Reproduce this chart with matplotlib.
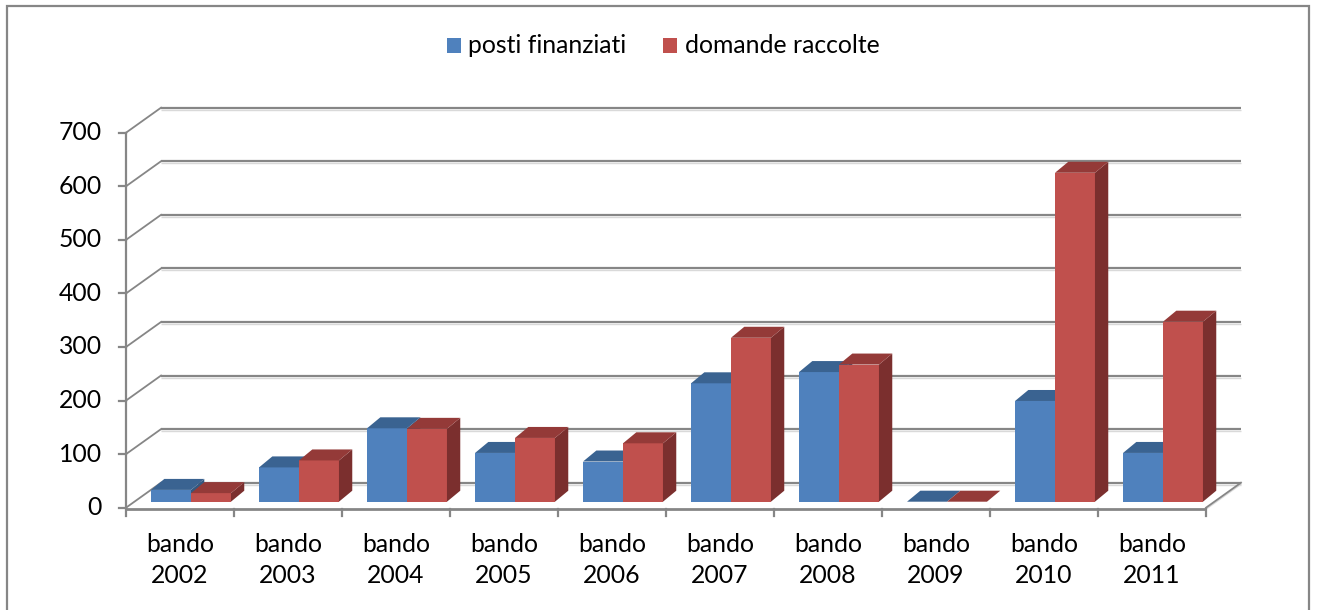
import matplotlib
matplotlib.use("Agg")
import matplotlib.pyplot as plt
from matplotlib.patches import Polygon, Rectangle

categories = ["bando\n2002", "bando\n2003", "bando\n2004", "bando\n2005", "bando\n2006",
              "bando\n2007", "bando\n2008", "bando\n2009", "bando\n2010", "bando\n2011"]
posti_finanziati = [22, 64, 137, 91, 75, 221, 242, 0, 188, 91]
domande_raccolte = [16, 77, 136, 119, 109, 306, 256, 0, 614, 336]
series_names = ["posti finanziati", "domande raccolte"]
y_ticks = [0, 100, 200, 300, 400, 500, 600, 700]

W, H, DPI = 1317, 610, 100
FONT = "Lato"
FS = 17.8

blue_front, blue_top, blue_side = "#4F81BD", "#3A6391", "#34587F"
red_front, red_top, red_side = "#C0504D", "#943A38", "#7B2F2E"
grid_c = "#868686"
shadow_c = "#D9D9D9"

fig = plt.figure(figsize=(W / DPI, H / DPI), dpi=DPI)
fig.patch.set_facecolor("white")

# front plane of the 3-D plot
x0_px, x1_px = 126, 1206
y0_px, y1_px = 507.7, 132.7
ax = fig.add_axes([x0_px / W, 1 - y0_px / H, (x1_px - x0_px) / W, (y0_px - y1_px) / H])
ncat = len(categories)
ax.set_xlim(0, ncat)
ax.set_ylim(0, 700)
ax.axis("off")

px_x = (x1_px - x0_px) / ncat          # px per category unit
px_y = (y0_px - y1_px) / 700.0         # px per value unit

def ux(p):
    return p / px_x

def uy(p):
    return p / px_y

# depth of the floor (back wall offset)
DXu, DYu = ux(35), uy(25)

# outer chart border
fig.add_artist(Rectangle((7 / W, -0.05), (1309 - 7) / W, 1.05 - 6 / H,
                         transform=fig.transFigure, fill=False,
                         edgecolor=grid_c, linewidth=1.6))

# back-wall gridlines and left-wall diagonals
for v in y_ticks:
    ax.plot([DXu, ncat + DXu], [v + DYu - uy(2), v + DYu - uy(2)], color=shadow_c, lw=1.0,
            clip_on=False, zorder=1, solid_capstyle="butt")
    ax.plot([DXu, ncat + DXu], [v + DYu, v + DYu], color=grid_c, lw=1.6,
            clip_on=False, zorder=2, solid_capstyle="butt")
    ax.plot([0, DXu], [v, v + DYu], color=grid_c, lw=1.3, clip_on=False, zorder=2)
    ax.plot([ux(-7), 0], [v, v], color=grid_c, lw=1.6, clip_on=False, zorder=2)
    ax.text(ux(-24), v, str(v), ha="right", va="center", fontsize=FS,
            family=FONT, color="black")

# floor right edge
ax.plot([ncat, ncat + DXu], [0, DYu], color=grid_c, lw=1.3, clip_on=False, zorder=2)
ax.plot([ncat, ncat + DXu], [uy(-1.5), DYu - uy(1.5)], color=shadow_c, lw=1.0, clip_on=False, zorder=1)
# front axes
ax.plot([0, 0], [0, 700], color=grid_c, lw=1.6, clip_on=False, zorder=3)
ax.plot([0, ncat], [uy(-1.3), uy(-1.3)], color=grid_c, lw=2.0, clip_on=False, zorder=3,
        solid_capstyle="butt")
for i in range(ncat + 1):
    ax.plot([i, i], [uy(-1.3), uy(-8)], color=grid_c, lw=1.6, clip_on=False, zorder=3)

# category labels
for i, lab in enumerate(categories):
    l1, l2 = lab.split("\n")
    ax.text(i + 0.5, uy(-(551.7 - y0_px)), l1, ha="center", va="baseline",
            fontsize=FS, family=FONT)
    ax.text(i + 0.5, uy(-(583.3 - y0_px)), l2, ha="center", va="baseline",
            fontsize=FS, family=FONT)

# bars
gap = 0.13
w = 0.37
ox, oy = ux(11), uy(6)
bdx, bdy = ux(13.3), uy(11)

def draw_bar(xl, val, front, top, side, z):
    b = oy
    t = oy + val
    ax.bar([xl], [val], width=w, bottom=b, align="edge", color=front,
           edgecolor="none", zorder=z, clip_on=False)
    ax.add_patch(Polygon([(xl + w, b), (xl + w + bdx, b + bdy), (xl + w + bdx, t + bdy), (xl + w, t)],
                         closed=True, facecolor=side, edgecolor="none", zorder=z, clip_on=False))
    ax.add_patch(Polygon([(xl, t), (xl + w, t), (xl + w + bdx, t + bdy), (xl + bdx, t + bdy)],
                         closed=True, facecolor=top, edgecolor="none", zorder=z, clip_on=False))

for i in range(ncat):
    xl = i + gap + ox
    draw_bar(xl, posti_finanziati[i], blue_front, blue_top, blue_side, 10 + 2 * i)
    draw_bar(xl + w, domande_raccolte[i], red_front, red_top, red_side, 11 + 2 * i)

# legend
def fx(p):
    return p / W

def fy(p):
    return 1 - p / H

fig.add_artist(Rectangle((fx(447), fy(53)), 14 / W, 15 / H, transform=fig.transFigure,
                         facecolor=blue_front, edgecolor="none"))
fig.text(fx(468), fy(53), series_names[0], ha="left", va="baseline", fontsize=FS, family=FONT)
fig.add_artist(Rectangle((fx(663), fy(53)), 14 / W, 15 / H, transform=fig.transFigure,
                         facecolor=red_front, edgecolor="none"))
fig.text(fx(685), fy(53), series_names[1], ha="left", va="baseline", fontsize=FS, family=FONT)

fig.savefig("out.png", dpi=DPI, facecolor="white")
